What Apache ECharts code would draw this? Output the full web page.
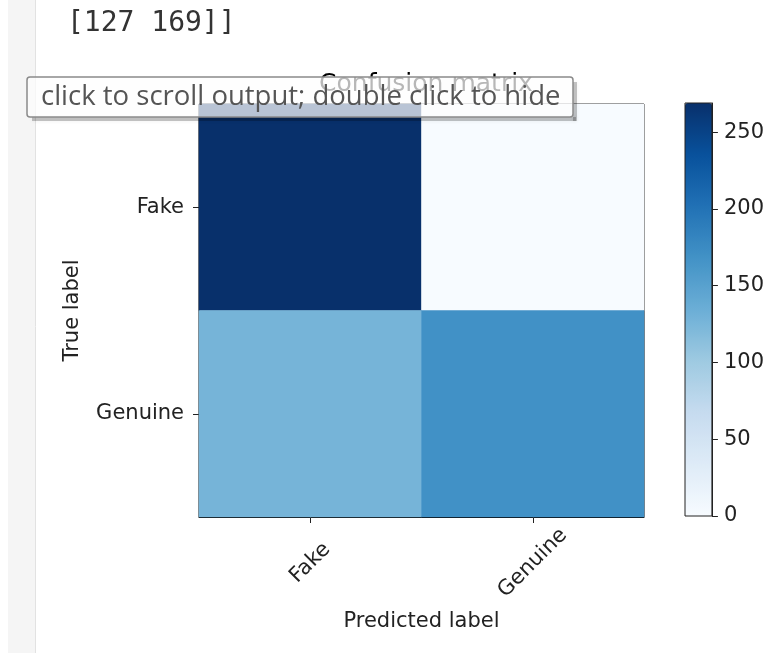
<!DOCTYPE html>
<html>
<head>
<meta charset="utf-8">
<script src="https://cdn.jsdelivr.net/npm/echarts@6/dist/echarts.min.js"></script>
<style>
  html, body { margin: 0; padding: 0; background: #fff; }
  #cm { width: 767px; height: 653px; }
</style>
</head>
<body>
<div id="cm"></div>
<script>
// confusion matrix data
var trueLabels = ['Fake', 'Genuine'];
var predLabels = ['Fake', 'Genuine'];
var fakeRow = [269, 0];
var genuineRow = [127, 169];
var colorbarTicks = [0, 50, 100, 150, 200, 250];
var cbMax = 269;

var blues = ['#f7fbff', '#deebf7', '#c6dbef', '#9ecae1', '#6baed6', '#4292c6', '#2171b5', '#08519c', '#08306b'];

var cells = [];
[fakeRow, genuineRow].forEach(function (row, r) {
    row.forEach(function (v, c) {
        cells.push([c, r, v]);
    });
});

var font = 'DejaVu Sans';

function init() {
    var chart = echarts.init(document.getElementById('cm'));
    var option = {
        backgroundColor: '#fff',
        animation: false,
        title: {
            text: 'Confusion matrix',
            left: 421,
            top: 67,
            textAlign: 'center',
            textStyle: { fontFamily: font, fontSize: 25, fontWeight: 'normal', color: '#000' }
        },
        grid: [
            { left: 199, top: 104, width: 445, height: 413, show: true, borderColor: '#000', borderWidth: 1, backgroundColor: 'transparent' },
            { left: 685, top: 103, width: 27, height: 413, show: true, borderColor: '#222', borderWidth: 1, backgroundColor: 'transparent', z: 10 }
        ],
        xAxis: [{
            type: 'category',
            gridIndex: 0,
            data: predLabels,
            name: 'Predicted label',
            nameLocation: 'middle',
            nameGap: 94,
            nameTextStyle: { fontFamily: font, fontSize: 21, color: '#222' },
            axisLine: { show: true, lineStyle: { color: '#000' } },
            axisTick: { show: true, alignWithLabel: true, length: 6, lineStyle: { color: '#222' } },
            axisLabel: {
                rotate: 45, align: 'center', verticalAlign: 'middle', margin: 46,
                fontFamily: font, fontSize: 21, color: '#222'
            },
            splitLine: { show: false }
        }, {
            type: 'category',
            gridIndex: 1,
            data: [''],
            show: false
        }],
        yAxis: [{
            type: 'category',
            gridIndex: 0,
            inverse: true,
            data: trueLabels,
            name: 'True label',
            nameLocation: 'middle',
            nameGap: 116,
            nameTextStyle: { fontFamily: font, fontSize: 21, color: '#222' },
            axisLine: { show: true, lineStyle: { color: '#000' } },
            axisTick: { show: true, alignWithLabel: true, length: 6, lineStyle: { color: '#222' } },
            axisLabel: { margin: 15, fontFamily: font, fontSize: 21, color: '#222' },
            splitLine: { show: false }
        }, {
            type: 'value',
            gridIndex: 1,
            position: 'right',
            z: 10,
            min: 0,
            max: cbMax,
            interval: 50,
            axisLine: { show: true, onZero: false, lineStyle: { color: '#222' } },
            axisTick: { show: true, inside: false, length: 6, lineStyle: { color: '#222', width: 1 } },
            axisLabel: {
                margin: 12, fontFamily: font, fontSize: 21, color: '#222',
                showMaxLabel: false,
                formatter: function (v) { return colorbarTicks.indexOf(v) >= 0 ? v : ''; }
            },
            splitLine: { show: false }
        }],
        visualMap: {
            type: 'continuous',
            seriesIndex: 0,
            dimension: 2,
            min: 0,
            max: cbMax,
            calculable: false,
            orient: 'vertical',
            left: 685,
            top: 103,
            padding: 0,
            z: 2,
            itemWidth: 27,
            itemHeight: 413,
            text: null,
            inRange: { color: blues }
        },
        series: [{
            type: 'heatmap',
            xAxisIndex: 0,
            yAxisIndex: 0,
            data: cells,
            label: { show: false },
            itemStyle: { borderWidth: 0 }
        }],
        graphic: [
            // notebook gutter
            { type: 'rect', z: 1, shape: { x: 8, y: 0, width: 27, height: 653 }, style: { fill: '#f5f5f5' } },
            { type: 'line', z: 1, shape: { x1: 35.5, y1: 0, x2: 35.5, y2: 653 }, style: { stroke: '#e2e2e2', lineWidth: 1 } },
            {
                type: 'text', z: 1, x: 67, y: 24,
                style: { text: '[127 169]]', fontFamily: 'DejaVu Sans Mono, monospace', fontSize: 28, fill: '#333', verticalAlign: 'middle' }
            },
            // tooltip shadow (right and bottom edges only)
            {
                type: 'rect', z: 99, shape: { x: 32, y: 117, width: 544, height: 4 },
                style: { fill: 'rgba(0,0,0,0.22)', shadowBlur: 4, shadowColor: 'rgba(0,0,0,0.3)' }
            },
            {
                type: 'rect', z: 99, shape: { x: 573, y: 82, width: 4, height: 39 },
                style: { fill: 'rgba(0,0,0,0.22)', shadowBlur: 4, shadowColor: 'rgba(0,0,0,0.3)' }
            },
            {
                type: 'rect', z: 100,
                shape: { x: 27, y: 77, width: 546, height: 40, r: 3 },
                style: { fill: 'rgba(253,253,253,0.72)', stroke: '#8a8a8a', lineWidth: 1.5 }
            },
            {
                type: 'text', z: 101, x: 41, y: 97,
                style: { text: 'click to scroll output; double click to hide', fontFamily: 'Open Sans', fontSize: 27.5, fill: '#555', verticalAlign: 'middle' }
            }
        ]
    };
    chart.setOption(option);
}
init();
</script>
</body>
</html>
